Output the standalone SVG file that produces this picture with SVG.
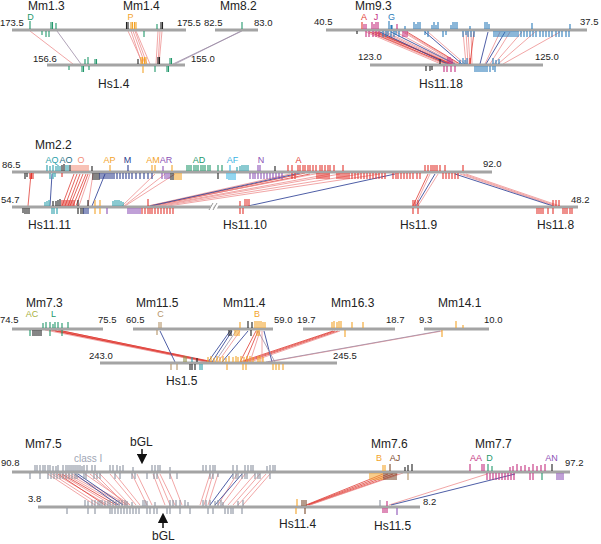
<svg xmlns="http://www.w3.org/2000/svg" width="601" height="544" viewBox="0 0 601 544">
<style>
text{font-family:"Liberation Sans",Arial,sans-serif;fill:#222}
.ti{font-size:12px}
.nu{font-size:9.5px}
.gl{font-size:9px}
.ax{stroke:#a4a4a4;stroke-width:3;fill:none}
.tk path{fill:none;stroke-width:1.1}
.g{stroke:#23986c}.y{stroke:#f3a42a}.k{stroke:#222}.b{stroke:#2c7cba}.m{stroke:#c42f7f}.r{stroke:#e2362f}.s{stroke:#f2907a}.tl{stroke:#2a9fab}.db{stroke:#2b3c8e}.pu{stroke:#8c52b6}.lb{stroke:#3ab4e4}.tn{stroke:#b59468}.gr{stroke:#8b93a0}.br{stroke:#7b4a2c}.ol{stroke:#8c8a42}
#connectors path{fill:none}
.cp{stroke:#ee8f8f;stroke-width:.8}
.cr{stroke:#df3d36;stroke-width:.8}
.cb{stroke:#3a4c9c;stroke-width:.9}
.cg{stroke:#9c8ca6;stroke-width:.8}
</style>
<defs>
<marker id="ah" viewBox="0 0 10 10" refX="5" refY="5" markerWidth="7" markerHeight="7" orient="auto"><path d="M0 0L10 5L0 10z" fill="#111"/></marker>
</defs>

<g id="connectors">
<path class="cp" d="M30 31L73 64M128 31L143 64M131 31L142 64M133 31L145 64M135 31L147 64M136 31L150 64M158 31L156 64M160 31L158 64M162 31L159 64"/>
<path class="cg" d="M57 31L81 64M242 31L173 64M241 31L175 64"/>
<path class="cp" d="M366 32L441 64M369 32L444 64M373 32L446 64M376 32L449 64M379 32L451 64M383 32L452 64M386 32L454 64M396 32L456 64M403 32L457 64M405 32L459 64M428 32L465 64M463 32L466 64M466 32L468 64M468 32L470 64M471 32L472 64M500 32L485 64M510 32L490 64M522 32L494 64M535 32L498 64M560 32L503 64"/>
<path class="cr" d="M370 32L447 64M374 32L452 64M377 32L450 64M407 32L460 64M474 32L470 64"/>
<path class="cb" d="M380 32L448 64M391 32L455 64M425 32L462 64M488 32L480 64M505 32L486 64"/>
<path class="cr" d="M31 174L28 206M74 174L62 206M77 174L65 206M80 174L68 206M83 174L70 206M86 174L73 206M88 174L76 206M305 173L150 206M310 174L152 206M428 174L413 206"/>
<path class="cp" d="M90 174L79 206M93 174L88 206M155 174L122 206M165 174L124 206M175 174L125 206M290 174L148 206M320 173L148 206M330 174L155 206M340 174L158 206M360 174L162 206M380 174L168 206M430 174L415 206M438 174L418 206M460 174L555 206M463 174L557 206M466 174L560 206"/>
<path class="cb" d="M52 174L50 206M105 174L92 206M300 173L150 206M395 174L248 206M435 174L416 206M455 174L553 206"/>
<path class="cr" d="M50 330L207 362M53 330L209 362M55 331L210 362M58 330L212 362M62 331L214 362M333 331L240 362M335 331L243 362M338 331L246 362M256 331L240 362M258 331L245 362"/>
<path class="cp" d="M45 330L206 362M340 331L250 362M260 331L250 362M262 331L262 362M240 331L218 362M442 331L268 362"/>
<path class="cb" d="M160 331L175 362M230 331L208 362M232 331L212 362M248 331L222 362M264 331L272 362"/>
<path class="cg" d="M236 331L215 362M258 331L275 362M440 331L266 362"/>
<path class="cp" d="M48 474L95 505M52 474L100 505M55 474L108 505M60 474L112 505M65 474L120 505M68 474L125 505M72 474L128 505M85 474L130 505M90 474L127 505M95 474L126 505M100 474L130 505M110 474L136 505M115 474L140 505M132 474L147 505M137 474L152 505M153 474L165 505M157 474L170 505M160 474L175 505M170 474L182 505M210 474L200 505M213 474L204 505M218 474L208 505M237 474L218 505M245 474L222 505M255 474L228 505M260 474L233 505M266 474L238 505M270 474L243 505M487 474L389 505"/>
<path class="cr" d="M62 474L116 505M58 474L105 505M383 474L306 505M388 474L307 505M393 474L308 505M398 474L309 505"/>
<path class="cb" d="M75 474L118 505M78 474L123 505M233 474L210 505M242 474L215 505M515 474L391 505"/>
<path class="cp" d="M403 473L310 505"/>
</g>

<g id="mm1-3">
<path class="ax" d="M12 30H186"/>
<text class="ti" x="28" y="10">Mm1.3</text>
<text class="gl" x="30.5" y="20" text-anchor="middle" style="fill:#23986c">D</text>
<text class="nu" x="0" y="26">173.5</text>
<g class="tk"><path class="g" d="M30 21v8M51 22v7M52.5 22v7M56 23v6M42 31v4M46 31v6M49 31v6M144 31v6M157 24v5"/><path class="k" d="M126.5 22v7M128 22v7M161 22v7M162.5 22v7"/><path class="y" d="M131 22v7M132.5 22v7M134.5 22v7M136 22v7"/></g>
</g>
<g id="mm1-4">
<text class="ti" x="123" y="10">Mm1.4</text>
<text class="gl" x="130.5" y="20" text-anchor="middle" style="fill:#f3a42a">P</text>
<text class="nu" x="177" y="26">175.5</text>
</g>
<g id="mm8-2">
<path class="ax" d="M215 30H258"/>
<text class="ti" x="220" y="10">Mm8.2</text>
<text class="nu" x="204" y="26">82.5</text>
<text class="nu" x="254" y="26">83.0</text>
<g class="tk"><path class="g" d="M242 22v7"/></g>
</g>
<g id="hs1-4">
<path class="ax" d="M47 65H185"/>
<text class="nu" x="33" y="62">156.6</text>
<text class="nu" x="191" y="62">155.0</text>
<text class="ti" x="98" y="88">Hs1.4</text>
<g class="tk"><path class="g" d="M85 59v5M88 57v7M95 59v5M96.5 59v5M170 58v6M171.5 58v6M69 66v4M82 66v6M83.5 66v6M89 66v4M155 66v6M167 66v6M168.5 66v6"/><path class="k" d="M138 59v5M158 57v7M159.5 57v7"/><path class="y" d="M141 57v7M142.5 57v7M144.5 57v7M146 57v7M143 66v7"/></g>
</g>

<g id="mm9-3">
<path class="ax" d="M326 30H587"/>
<text class="ti" x="355" y="10">Mm9.3</text>
<text class="gl" x="364" y="20" text-anchor="middle" style="fill:#e2362f">A</text>
<text class="gl" x="376" y="20" text-anchor="middle" style="fill:#c42f7f">J</text>
<text class="gl" x="391.5" y="20" text-anchor="middle" style="fill:#2c7cba">G</text>
<text class="nu" x="314" y="25">40.5</text>
<text class="nu" x="580" y="25">37.5</text>
<g class="tk">
<path class="r" d="M362 22v7"/>
<path class="m" d="M364 24v5M366 24v5M372 22v7M374 24v5M376 22v7M378 22v7M397 24v5M366 31v6M369 31v6M373 31v6M376 31v6M379 31v6M403 31v6M405 31v6M407 31v6"/>
<path class="b" d="M389 21v8M391 25v4M392 25v4M405 26v3M414 22v7M416 24v5M418 22v7M420 22v7M432 25v4M434 22v7M436 25v4M438 22v7M451 25v4M453 22v7M455 22v7M457 22v7M470 26v3M485 22v7M487 22v7M489 24v5M532 23v6M570 24v5M383 31v6M386 31v6M388 31v4M391 31v6M394 31v6M396 31v4M399 31v6M425 31v4M428 31v6M443 31v6M446 31v4M463 31v6M466 31v4M468 31v6M471 31v6M474 31v6M494 31v6M496 31v6M498 31v6M500 31v6M502 31v6M504 31v6M506 31v6M508 31v6M510 31v6M512 31v6M514 31v6M516 31v6M518 31v6M521 31v6M524 31v6M527 31v6M530 31v6M533 31v6M536 31v6M540 31v6M543 31v6M546 31v6M549 31v6M552 31v6M556 31v6M559 31v6M562 31v6M566 31v6M569 31v6"/>
<path class="k" d="M357 31v3"/>
</g>
</g>
<g id="hs11-18">
<path class="ax" d="M370 65H543"/>
<text class="nu" x="358" y="60">123.0</text>
<text class="nu" x="535" y="60">125.0</text>
<text class="ti" x="419" y="88">Hs11.18</text>
<g class="tk">
<path class="k" d="M440 59v5M426 66v5M430 66v5M432 66v4"/>
<path class="m" d="M448 57v7M450 57v7M452 59v5M444 66v6M447 66v6M451 66v6M455 66v6"/>
<path class="b" d="M460 60v4M463 58v6M465 60v4M467 58v6M493 58v6M496 60v4M499 59v5M475 66v6M477 66v6M479 66v6M481 66v6M483 66v6M485 66v6M487 66v6M490 66v6M493 66v4M495 66v6"/>
<path class="r" d="M470 58v6"/>
</g>
</g>

<g id="mm2-2">
<path class="ax" d="M12 172H492"/>
<text class="ti" x="35" y="149">Mm2.2</text>
<text class="nu" x="2" y="168">86.5</text>
<text class="nu" x="483" y="167">92.0</text>
<g class="gl">
<text x="52" y="163" text-anchor="middle" style="fill:#2a9fab">AQ</text>
<text x="66" y="163" text-anchor="middle" style="fill:#1f6f86">AO</text>
<text x="81" y="163" text-anchor="middle" style="fill:#f2907a">O</text>
<text x="109.5" y="163" text-anchor="middle" style="fill:#f3a42a">AP</text>
<text x="127.5" y="163" text-anchor="middle" style="fill:#2b3c8e">M</text>
<text x="153" y="163" text-anchor="middle" style="fill:#f3a42a">AM</text>
<text x="166" y="163" text-anchor="middle" style="fill:#8c52b6">AR</text>
<text x="199" y="163" text-anchor="middle" style="fill:#23986c">AD</text>
<text x="232.5" y="163" text-anchor="middle" style="fill:#3ab4e4">AF</text>
<text x="261" y="163" text-anchor="middle" style="fill:#8c52b6">N</text>
<text x="298.5" y="163" text-anchor="middle" style="fill:#e2362f">A</text>
</g>
<g class="tk">
<path class="tl" d="M47 165v6M50 166v5M53 165v6M56 166v5M58 165v6M60 166v5M66 165v6M68 165v6M50 173v6M53 173v6M55 173v4"/>
<path class="k" d="M62 165v6M64 164v7M70 165v6M92 166v5M25 173v6M27 173v4M93 173v7M95 173v7M97 173v7M99 173v7M218 173v6M275 166v5M171 173v7M173 173v7"/>
<path class="s" d="M72 165v6M74 165v6M76 165v6M78 165v6M80 165v6M82 165v6M84 165v6M86 165v6M88 165v6"/>
<path class="r" d="M30 173v6M31.5 173v6M33 173v6M62 173v4M288 165v6M292 165v6M298 165v6M300 165v6M303 165v6M305 165v6M308 165v6M310 165v6M313 165v6M316 165v6M320 165v6M322 165v6M325 165v6M328 165v6M330 165v6M334 165v6M343 165v6M425 165v6M428 165v6M431 165v6M433 165v6M435 165v6M437 165v6M440 165v6M445 165v6M463 165v6M292 173v6M295 173v6M317 173v6M319 173v6M321 173v6M323 173v6M325 173v6M327 173v6M329 173v6M337 173v6M339 173v6M341 173v6M343 173v6M345 173v6M347 173v6M349 173v6M352 173v6M355 173v6M358 173v6M361 173v6M364 173v6M367 173v6M370 173v6M373 173v6M376 173v6M379 173v6M382 173v6M385 173v6M393 173v6M396 173v6M398 173v6M401 173v6M404 173v6M407 173v6M410 173v6M413 173v6M417 173v6M420 173v6M443 173v6M446 173v6M449 173v6M452 173v6M455 173v6M458 173v6"/>
<path class="y" d="M110 165v6M152 165v6M155 165v6M172 165v6M175 173v7M177 173v7M179 173v7M181 173v7"/>
<path class="db" d="M128 165v6M100 173v6M102 173v6M104 173v6M106 173v6M108 173v6M110 173v6M112 173v6M114 173v6M117 173v6M120 173v6M123 173v6M126 173v6M129 173v6M132 173v6M136 173v6M140 173v6M144 173v6M148 173v6M152 173v6"/>
<path class="pu" d="M163 166v5M258 165v6M260 165v6M162 173v6M165 173v6M167 173v6M169 173v6M250 173v6M253 173v6M255 173v6M258 173v6M261 173v6M264 173v6M267 173v6M270 173v6M273 173v6M276 173v6M279 173v6M282 173v6"/>
<path class="g" d="M187 165v6M189 165v6M191 165v6M194 165v6M196 165v6M198 165v6M201 165v6M203 165v6M205 165v6M208 165v6M210 165v6M218 165v6M222 165v6"/>
<path class="tl" d="M237 167v4M240 166v5M242 165v6M244 165v6M246 165v6M248 165v6"/>
<path class="lb" d="M230 165v6M229 173v7M231 173v7M233 173v7M235 173v7M227 173v6"/>
</g>
</g>
<g id="hs11">
<path class="ax" d="M12 207H578"/>
<path d="M210 211L214 203M214 211L218 203" stroke="#fff" stroke-width="3"/>
<path d="M209 210L213 203M213 210L217 203" stroke="#999" stroke-width="1" fill="none"/>
<text class="nu" x="1" y="203">54.7</text>
<text class="nu" x="571" y="203">48.2</text>
<text class="ti" x="28" y="229">Hs11.11</text>
<text class="ti" x="223" y="229">Hs11.10</text>
<text class="ti" x="400" y="229">Hs11.9</text>
<text class="ti" x="537" y="229">Hs11.8</text>
<g class="tk">
<path class="tl" d="M45 202v4M47 201v5M49 200v6M52 208v6M54 208v6M57 208v6"/>
<path class="k" d="M53 201v5M56 201v5M58 200v6M60 199v7M78 200v6M88 200v6M23 208v5M25 208v6M27 208v6M29 208v6M78 208v6M81 208v6M83 208v6"/>
<path class="r" d="M62 200v6M64 200v6M66 200v6M68 200v6M70 200v6M72 200v6M74 200v6M148 199v7M142 208v6M145 208v6M148 208v6M150 208v6M152 208v6M155 208v6M158 208v6M161 208v6M164 208v6M167 208v6M170 208v6M173 208v6M240 201v5M245 199v7M247 199v7M249 199v7M240 208v6M243 208v6M413 200v6M415 200v6M418 200v6M413 208v6M418 208v6M553 200v6M556 200v6M559 200v6M537 208v6M539 208v6M541 208v6M543 208v6M548 208v6M553 208v6M563 208v6M565 208v6M567 208v6M570 208v6M572 208v6"/>
<path class="y" d="M95 200v6M100 200v6M95 208v6M100 208v6"/>
<path class="db" d="M84 208v6M86 208v6M88 208v6"/>
<path class="pu" d="M107 208v6M128 208v6M130 208v6M132 208v6M134 208v6M136 208v6M138 208v6M140 208v6"/>
<path class="tl" d="M113 201v5M115 200v6M117 200v6M119 200v6M121 201v5M123 202v4"/>
</g>
</g>

<g id="mm7-3">
<path class="ax" d="M12 329H103"/>
<text class="ti" x="26" y="307">Mm7.3</text>
<text class="gl" x="32" y="317" text-anchor="middle" style="fill:#a8b040">AC</text>
<text class="gl" x="53.5" y="317" text-anchor="middle" style="fill:#23986c">L</text>
<text class="nu" x="0" y="323">74.5</text>
<text class="nu" x="98" y="323">75.5</text>
<g class="tk"><path class="g" d="M43 323v5M46 322v6M50 322v6M53 324v4M55 322v6M58 322v6M62 323v5M68 322v6M30 330v6M50 330v6M62 330v6"/><path class="k" d="M33 330v6M35 330v6M37 330v6M39 330v6M41 330v6"/></g>
</g>
<g id="mm11-5">
<path class="ax" d="M133 329H273"/>
<text class="ti" x="136" y="307">Mm11.5</text>
<text class="gl" x="160.5" y="317" text-anchor="middle" style="fill:#b59468">C</text>
<text class="nu" x="126" y="323">60.5</text>
<g class="tk"><path class="tn" d="M159 322v6M161 322v6M157 330v5"/></g>
</g>
<g id="mm11-4">
<text class="ti" x="223" y="307">Mm11.4</text>
<text class="gl" x="257" y="317" text-anchor="middle" style="fill:#f3a42a">B</text>
<text class="nu" x="274" y="323">59.0</text>
<g class="tk"><path class="y" d="M240 322v6M255 321v7M257 321v7M259 321v7M261 321v7M263 322v6M265 322v6M235 330v6M237 330v6M239 330v6M257 330v6M259 330v6"/><path class="k" d="M248 321v7M252 322v6M229 330v6M231 330v6M251 330v6"/></g>
</g>
<g id="mm16-3">
<path class="ax" d="M303 329H395"/>
<text class="ti" x="331" y="307">Mm16.3</text>
<text class="nu" x="297" y="323">19.7</text>
<text class="nu" x="386" y="323">18.7</text>
<g class="tk"><path class="y" d="M332 322v6M334 321v7M337 322v6M339 321v7M341 321v7M352 322v6M363 322v6M345 330v7"/></g>
</g>
<g id="mm14-1">
<path class="ax" d="M424 329H489"/>
<text class="ti" x="438" y="307">Mm14.1</text>
<text class="nu" x="419" y="323">9.3</text>
<text class="nu" x="484" y="323">10.0</text>
<g class="tk"><path class="y" d="M456 321v7M463 325v3M442 330v7"/></g>
</g>
<g id="hs1-5">
<path class="ax" d="M100 363H337"/>
<text class="nu" x="89" y="359">243.0</text>
<text class="nu" x="333" y="359">245.5</text>
<text class="ti" x="166" y="385">Hs1.5</text>
<g class="tk">
<path class="ol" d="M184 356v6M186 356v6"/>
<path class="tl" d="M192 357v5M200 364v6M202 364v6"/>
<path class="k" d="M197 358v4M190 364v6M192 364v6M195 364v6"/>
<path class="tn" d="M171 364v6M177 364v6"/>
<path class="y" d="M208 357v5M211 356v6M214 358v4M217 356v6M220 357v5M223 356v6M226 358v4M229 356v6M233 357v5M236 356v6M238 357v5M241 356v6M244 357v5M247 356v6M250 356v6M253 357v5M258 356v6M260 356v6M263 357v5M227 364v6M243 364v6M246 364v6M273 364v6M276 364v6M279 364v6M283 364v6"/>
</g>
</g>

<g id="mm7-5">
<path class="ax" d="M12 472H570"/>
<text class="ti" x="25" y="448">Mm7.5</text>
<text class="ti" x="130" y="446">bGL</text>
<path d="M142 449V459" stroke="#111" stroke-width="1.5" marker-end="url(#ah)"/>
<text x="74" y="462" style="font-size:10px;fill:#a0a6b4">class I</text>
<text class="nu" x="1" y="466">90.8</text>
<g class="tk"><path class="gr" d="M35 465v6M37 465v6M40 465v6M43 465v6M45 465v6M48 465v6M50 465v6M53 466v5M56 466v5M58 465v6M63 465v6M66 465v6M68 465v6M70 465v6M72 465v6M74 465v6M76 465v6M78 465v6M80 465v6M82 466v5M84 465v6M87 465v6M92 465v6M95 465v6M110 465v6M113 465v6M117 465v6M120 466v5M123 465v6M133 467v4M152 465v6M155 465v6M158 465v6M160 465v6M170 467v4M203 465v6M206 465v6M210 465v6M213 465v6M215 465v6M233 465v6M237 465v6M245 465v6M248 465v6M251 465v6M253 465v6M267 466v5M270 465v6M273 465v6M275 465v6M30 473v6M40 473v6M48 473v6M51 473v6M54 473v6M57 473v6M60 473v6M63 473v6M66 473v6M69 473v6M72 473v6M75 473v6M77 473v6M84 473v6M86 473v6M94 473v6M97 473v6M100 473v6M115 473v6M120 473v6M132 473v6M135 473v6M147 473v6M154 473v6M157 473v6M170 473v6M177 473v6M210 473v6M213 473v6M218 473v4M233 473v6M236 473v6M238 473v6M242 473v6M245 473v6M247 473v6M255 473v6M258 473v6M260 473v6M270 473v6"/></g>
</g>
<g id="mm7-6">
<text class="ti" x="371" y="448">Mm7.6</text>
<text class="gl" x="379" y="461" text-anchor="middle" style="fill:#f3a42a">B</text>
<text class="gl" x="395" y="461" text-anchor="middle" style="fill:#7b4a2c">AJ</text>
<g class="tk"><path class="y" d="M383 465v6M385 465v6M370 473v7M372 473v7M374 473v7M376 473v7M378 473v7M380 473v7M382 473v7"/><path class="br" d="M390 464v7M384 473v7M386 473v7M388 473v7M390 473v7M392 473v7M394 473v7M396 473v7"/><path class="k" d="M405 467v4M408 465v6M412 464v7"/><path class="tn" d="M408 473v7"/></g>
</g>
<g id="mm7-7">
<text class="ti" x="475" y="448">Mm7.7</text>
<text class="gl" x="476" y="461" text-anchor="middle" style="fill:#c42f7f">AA</text>
<text class="gl" x="489.5" y="461" text-anchor="middle" style="fill:#23986c">D</text>
<text class="gl" x="551.5" y="461" text-anchor="middle" style="fill:#8c52b6">AN</text>
<text class="nu" x="565" y="466">97.2</text>
<g class="tk"><path class="m" d="M470 464v7M482 464v7M484 464v7M510 467v4M513 466v5M517 464v7M521 466v5M525 465v6M529 467v4M533 464v7M537 466v5M541 465v6M545 464v7M487 473v7M490 473v7M493 473v7M496 473v7M499 473v7M502 473v7M505 473v7M508 473v7M511 473v7M514 473v7M530 473v7M533 473v7"/><path class="g" d="M488 464v7M492 466v5M542 473v7"/><path class="k" d="M552 464v7"/><path class="pu" d="M557 473v7M559 473v7M561 473v7M563 473v7"/></g>
</g>
<g id="hs-bottom">
<path class="ax" d="M38 507H420"/>
<text class="nu" x="28" y="502">3.8</text>
<text class="nu" x="423" y="505">8.2</text>
<text class="ti" x="152" y="540">bGL</text>
<path d="M163 528V518" stroke="#111" stroke-width="1.5" marker-end="url(#ah)"/>
<text class="ti" x="279" y="528">Hs11.4</text>
<text class="ti" x="374" y="530">Hs11.5</text>
<g class="tk"><path class="gr" d="M85 500v6M88 501v5M92 500v6M95 500v6M98 501v5M100 500v6M102 500v6M105 501v5M108 500v6M110 500v6M113 500v6M116 501v5M119 500v6M122 500v6M125 500v6M127 501v5M132 502v4M143 500v6M145 500v6M147 501v5M155 502v4M170 500v6M173 500v6M176 500v6M180 500v6M185 500v6M188 502v4M203 500v6M206 500v6M210 500v6M215 501v5M218 500v6M221 500v6M223 502v4M238 501v5M243 500v6M67 508v6M88 508v6M95 508v6M110 508v6M112 508v6M115 508v6M118 508v6M121 508v6M124 508v6M127 508v6M130 508v6M133 508v6M136 508v6M139 508v6M147 508v6M150 508v6M154 508v6M157 508v6M167 508v6M170 508v6M180 508v6M190 508v6M208 508v6M213 508v6M225 508v6M228 508v6M231 508v6M233 508v6M242 508v6M380 500v6"/><path class="y" d="M297 499v7M296 508v6"/><path class="br" d="M302 500v6M304 500v6M306 500v6M305 508v6"/><path class="m" d="M387 501v5M383 508v5M385 508v5M387 508v5"/><path class="pu" d="M397 508v7"/></g>
</g>
</svg>
